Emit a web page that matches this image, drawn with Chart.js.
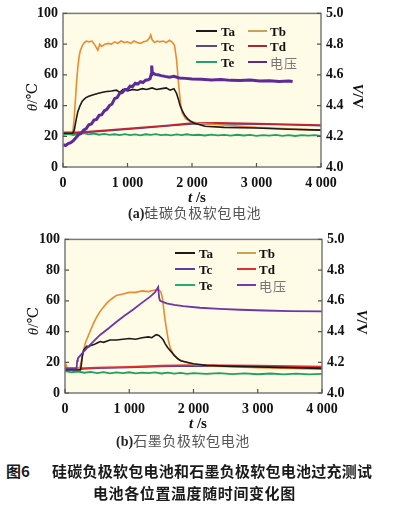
<!DOCTYPE html>
<html><head><meta charset="utf-8">
<script src="https://cdn.jsdelivr.net/npm/chart.js@4.4.1/dist/chart.umd.min.js"></script>
<style>
html,body{margin:0;padding:0;background:#fff;}
#fig{position:relative;width:394px;height:516px;overflow:hidden;background:#fff;}
canvas{position:absolute;left:0;}
.t{position:absolute;white-space:nowrap;line-height:1;}
.serif{font-family:"Liberation Serif","DejaVu Serif",serif;}
.cjk{font-family:"Noto Sans CJK SC",sans-serif;}
.mid{transform:translateY(-50%);}
.sw{position:absolute;height:2px;}
</style></head>
<body>
<div id="fig">
  <canvas id="ca" width="394" height="205" style="top:0"></canvas>
  <canvas id="cb" width="394" height="205" style="top:226px"></canvas>
</div>
<script>
// ---------------- DATA ----------------
const xTicks = [0, 1000, 2000, 3000, 4000];
const xTickLabels = ['0', '1 000', '2 000', '3 000', '4 000'];
const yTicks = [0, 20, 40, 60, 80, 100];
const yTickLabels = ['0', '20', '40', '60', '80', '100'];
const vTicks = [4.0, 4.2, 4.4, 4.6, 4.8, 5.0];
const vTickLabels = ['4.0', '4.2', '4.4', '4.6', '4.8', '5.0'];
const legendLabels = ['Ta', 'Tb', 'Tc', 'Td', 'Te', '电压'];

// (a) 硅碳负极软包电池
const a_Ta_t = [0,150,175,200,230,265,300,350,400,470,550,650,750,830,880,930,1000,1080,1150,1230,1300,1380,1450,1530,1600,1660,1720,1760,1790,1815,1850,1890,1930,1970,2030,2200,2500,3000,3500,4000];
const a_Ta_v = [22,22,24,30,36,40,43,45,46,47,48,49,49.5,50,48.5,50.5,49.5,50.5,50,51,50.5,51.5,50.5,51,51.5,50,51,48,44,40,36.5,33.5,31.5,30,28.7,26.5,25.8,25.4,24.6,24];
const a_Tb_t = [0,150,170,190,210,230,250,270,300,330,360,400,450,500,540,570,600,650,700,750,800,850,900,950,1000,1050,1100,1150,1200,1250,1300,1340,1360,1380,1420,1460,1500,1550,1600,1650,1700,1730,1760,1790,1820,1850,1900,1950,2000,2100,2300,2600,3000,3500,4000];
const a_Tb_v = [22,22,30,42,55,65,72,76,79,81,82,81.5,82,79,76,80,78.5,80,80.5,80,81.5,80.5,82,81,81.5,80.5,82,81,80.5,81.5,82,84,86,83,81,82,81.5,82,81,82.5,81,79,70,55,42,35,31.5,30.2,29.5,28.5,27.8,27,25.8,24.8,24];
const a_Tc_t = [0,200,400,800,1200,1600,2000,2400,3000,3500,4000];
const a_Tc_v = [22,22,22.6,23.9,25.2,26.6,28,28.2,27.8,27.4,26.9];
const a_Td_t = [0,200,400,800,1200,1600,2000,2400,3000,3500,4000];
const a_Td_v = [22.5,22.5,23,24.3,25.6,27,28.5,28.7,28.2,27.8,27.3];
const a_Te_t = [0,80,160,240,320,400,480,560,640,720,800,880,960,1040,1120,1200,1280,1360,1440,1520,1600,1680,1760,1840,1920,2000,2100,2200,2300,2400,2500,2600,2700,2800,2900,3000,3100,3200,3300,3400,3500,3600,3700,3800,3900,4000];
const a_Te_v = [21,21.6,20.8,21.5,22,21.2,21.8,21,21.6,20.9,21.3,20.7,21.4,20.8,21.2,20.6,21.3,20.9,21.4,20.7,21.1,20.6,21.2,20.8,21.3,20.7,21,20.5,21.1,20.6,20.9,20.4,21,20.5,20.9,20.3,20.8,20.4,20.9,20.3,20.7,20.2,20.8,20.4,20.7,20.3];
const a_U_t = [0,40,80,120,160,200,240,280,320,360,400,440,480,520,560,600,640,680,720,760,800,840,880,920,960,1000,1040,1080,1120,1160,1200,1240,1280,1320,1350,1365,1375,1385,1400,1430,1470,1520,1580,1650,1720,1800,1900,2000,2150,2300,2450,2600,2750,2900,3050,3200,3350,3500,3560];
const a_U_v = [4.145,4.14,4.152,4.158,4.172,4.19,4.21,4.218,4.24,4.25,4.275,4.28,4.305,4.31,4.336,4.34,4.365,4.375,4.4,4.41,4.445,4.452,4.48,4.485,4.505,4.505,4.526,4.524,4.545,4.54,4.555,4.55,4.565,4.568,4.575,4.6,4.66,4.615,4.61,4.603,4.6,4.595,4.59,4.585,4.59,4.58,4.577,4.573,4.572,4.567,4.57,4.564,4.563,4.566,4.56,4.562,4.557,4.56,4.556];

// (b) 石墨负极软包电池
const b_Ta_t = [0,240,250,270,290,310,340,370,400,450,500,550,600,700,800,900,1000,1100,1200,1300,1350,1420,1460,1500,1530,1560,1600,1650,1700,1750,1800,1900,2000,2200,2500,3000,3500,4000];
const b_Ta_v = [15,15,17,24,28,29,30.5,30,31,31.5,32.5,33.5,33,34.5,34.5,35,35.5,35,36,36.5,36,38,37.5,36,34.5,32,29.5,27,24.5,22.5,21,20,19,18,17.5,17,16.5,16];
const b_Tb_t = [0,20,40,60,200,230,260,290,320,350,390,450,500,545,600,650,700,750,800,900,1000,1100,1200,1300,1400,1460,1490,1510,1530,1550,1570,1590,1610,1640,1680,1710,1760,1840,2000,2300,2700,3000,3500,4000];
const b_Tb_v = [16,18,15.5,16,16,16,22,28,33,36,40,46,50,53,56,58.5,60.5,62,63.5,64.5,65.5,65.5,66.5,66,67,67,66,63,57,50,44,39,34,29,26,24,22,20.5,18.5,17.5,17,16.5,16,15.5];
const b_Tc_t = [0,200,500,1000,1500,2000,2500,3000,3500,4000];
const b_Tc_v = [15.5,15.5,16,16.6,17.3,17.6,17.4,17.1,16.9,16.7];
const b_Td_t = [0,200,500,1000,1500,2000,2500,3000,3500,4000];
const b_Td_v = [16,16,16.5,17,17.8,18.2,18,17.8,17.5,17.3];
const b_Te_t = [0,100,200,300,400,500,600,700,800,900,1000,1100,1200,1300,1400,1500,1600,1700,1800,1900,2000,2200,2400,2600,2800,3000,3200,3400,3600,3800,4000];
const b_Te_v = [14.2,13.5,14,13.2,13.8,13,13.6,12.8,13.4,13,13.5,12.8,13.3,12.9,13.4,12.7,13.2,12.6,13.1,12.5,13,12.4,12.9,12.3,12.8,12.2,12.7,12.1,12.6,12.1,12.4];
const b_U_t = [0,180,190,200,250,337,440,545,680,803,930,1062,1190,1321,1400,1450,1465,1480,1580,1700,1840,2100,2400,2724,3100,3500,4000];
const b_U_v = [4.16,4.16,4.21,4.225,4.25,4.29,4.335,4.378,4.422,4.464,4.505,4.544,4.585,4.626,4.655,4.69,4.62,4.60,4.583,4.574,4.566,4.555,4.548,4.542,4.537,4.533,4.531];

// ---------------- STYLE ----------------
const C_Ta = '#1a1a1a', C_Tb = '#ec8a2e', C_Tc = '#5b3f8f', C_Te = '#22a060';
const legendColorsA = ['#1a1a1a', '#c9a257', '#5b4a8a', '#a8262c', '#22a070', '#5e2a86'];
const legendColorsB = ['#1a1a1a', '#c9a257', '#5b3fa0', '#e03030', '#22b070', '#7a3aa8'];

function pts(t, v) { return t.map((x, i) => ({ x: x, y: v[i] })); }

const framePlugin = {
  id: 'frame',
  beforeDraw(c) {
    const a = c.chartArea, x = c.ctx;
    x.save(); x.fillStyle = '#fefbe6';
    x.fillRect(a.left, a.top, a.right - a.left, a.bottom - a.top);
    x.restore();
  },
  afterDraw(c) {
    const a = c.chartArea, x = c.ctx;
    x.save();
    x.strokeStyle = '#7a7a7a'; x.lineWidth = 1.5;
    x.strokeRect(a.left, a.top, a.right - a.left, a.bottom - a.top);
    x.lineWidth = 1.2; x.strokeStyle = '#555';
    x.beginPath();
    c.scales.x.ticks.forEach(t => { const p = c.scales.x.getPixelForValue(t.value); x.moveTo(p, a.bottom); x.lineTo(p, a.bottom - 4); });
    c.scales.y.ticks.forEach(t => { const p = c.scales.y.getPixelForValue(t.value); x.moveTo(a.left, p); x.lineTo(a.left + 4, p); });
    c.scales.v.ticks.forEach(t => { const p = c.scales.v.getPixelForValue(t.value); x.moveTo(a.right, p); x.lineTo(a.right - 4, p); });
    x.stroke();
    x.restore();
  }
};

const tickFont = { family: '"Liberation Serif", "DejaVu Serif", serif', size: 14, weight: 'bold' };

function makeChart(id, ds, leftW, rightW) {
  return new Chart(document.getElementById(id), {
    type: 'line',
    data: { datasets: ds },
    plugins: [framePlugin],
    options: {
      responsive: false, animation: false, devicePixelRatio: 1,
      layout: { padding: { top: 13, left: 0, right: 0, bottom: 0 } },
      plugins: { legend: { display: false }, tooltip: { enabled: false } },
      elements: { point: { radius: 0 }, line: { tension: 0 } },
      scales: {
        x: {
          type: 'linear', position: 'bottom', min: 0, max: 4000,
          afterBuildTicks: s => { s.ticks = xTicks.map(v => ({ value: v })); },
          ticks: { callback: (v, i) => xTickLabels[i], font: tickFont, color: '#111', padding: 8, maxRotation: 0, autoSkip: false },
          grid: { display: false, drawTicks: false }, border: { display: false },
          afterFit: s => { s.height = 38; }
        },
        y: {
          type: 'linear', position: 'left', min: 0, max: 100,
          afterBuildTicks: s => { s.ticks = yTicks.map(v => ({ value: v })); },
          ticks: { callback: (v, i) => yTickLabels[i], font: tickFont, color: '#111', padding: 5 },
          grid: { display: false, drawTicks: false }, border: { display: false },
          afterFit: s => { s.width = leftW; }
        },
        v: {
          type: 'linear', position: 'right', min: 4.0, max: 5.0,
          afterBuildTicks: s => { s.ticks = vTicks.map(v => ({ value: v })); },
          ticks: { callback: (v, i) => vTickLabels[i], font: tickFont, color: '#111', padding: 5 },
          grid: { display: false, drawTicks: false }, border: { display: false },
          afterFit: s => { s.width = rightW; }
        }
      }
    }
  });
}

function lineDs(label, t, v, color, width, order, axis) {
  return { label: label, data: pts(t, v), borderColor: color, borderWidth: width, order: order, yAxisID: axis || 'y', xAxisID: 'x', fill: false };
}

makeChart('ca', [
  lineDs('Ta', a_Ta_t, a_Ta_v, C_Ta, 1.6, 2),
  lineDs('Tb', a_Tb_t, a_Tb_v, C_Tb, 1.6, 3),
  lineDs('Tc', a_Tc_t, a_Tc_v, C_Tc, 1.4, 6),
  lineDs('Td', a_Td_t, a_Td_v, '#c0262e', 1.8, 4),
  lineDs('Te', a_Te_t, a_Te_v, C_Te, 1.8, 5),
  lineDs('电压', a_U_t, a_U_v, '#5e2a9a', 3, 1, 'v')
], 63, 73);

makeChart('cb', [
  lineDs('Ta', b_Ta_t, b_Ta_v, C_Ta, 1.6, 2),
  lineDs('Tb', b_Tb_t, b_Tb_v, C_Tb, 1.6, 3),
  lineDs('Tc', b_Tc_t, b_Tc_v, C_Tc, 1.4, 6),
  lineDs('Td', b_Td_t, b_Td_v, '#e0302e', 1.6, 4),
  lineDs('Te', b_Te_t, b_Te_v, C_Te, 1.8, 5),
  lineDs('电压', b_U_t, b_U_v, '#6e36a8', 1.8, 1, 'v')
], 65, 72);

// ---------------- TEXT OVERLAYS ----------------
const fig = document.getElementById('fig');
function addText(html, cls, left, top, style) {
  const d = document.createElement('div');
  d.className = 't ' + cls;
  d.innerHTML = html;
  d.style.left = left + 'px'; d.style.top = top + 'px';
  if (style) d.setAttribute('style', d.getAttribute('style') + ';' + style);
  fig.appendChild(d);
  return d;
}
function legend(rows, col1, col2, colors) {
  legendLabels.forEach((lab, i) => {
    const r = Math.floor(i / 2), c = i % 2;
    const ln = c === 0 ? col1 : col2;
    const sw = document.createElement('div');
    sw.className = 'sw';
    sw.style.left = ln[0] + 'px'; sw.style.width = (ln[1] - ln[0]) + 'px';
    sw.style.top = (rows[r] - 1) + 'px'; sw.style.background = colors[i];
    fig.appendChild(sw);
    const isCjk = /[^\x00-\x7f]/.test(lab);
    addText(lab, (isCjk ? 'cjk' : 'serif') + ' mid', ln[2], rows[r],
      isCjk ? 'font-size:13px;color:#777;letter-spacing:1px' : 'font-size:13px;font-weight:bold;color:#111');
  });
}
legend([31, 46, 62], [196, 217, 221], [248, 267, 270], legendColorsA);
legend([253, 269, 285], [175, 195, 199], [237, 256, 259], legendColorsB);

// axis titles
function rotTitle(html, cx, cy, deg, style) {
  const d = addText(html, 'serif', cx, cy, style + ';transform:translate(-50%,-50%) rotate(' + deg + 'deg)');
  return d;
}
rotTitle('<i>θ</i>/℃', 32, 97, -90, 'font-size:15px;color:#111');
rotTitle('<i>V</i>/V', 357, 96, 90, 'font-size:15px;font-weight:bold;color:#111');
rotTitle('<i>θ</i>/℃', 33, 321, -90, 'font-size:15px;color:#111');
rotTitle('<i>V</i>/V', 361, 322, 90, 'font-size:15px;font-weight:bold;color:#111');
addText('<i>t</i> /s', 'serif', 197, 197, 'font-size:15px;font-weight:bold;color:#111;transform:translate(-50%,-50%)');
addText('<i>t</i> /s', 'serif', 198, 423, 'font-size:15px;font-weight:bold;color:#111;transform:translate(-50%,-50%)');

// sub captions
addText('<span class="serif" style="font-weight:bold;color:#222">(a)</span><span class="cjk" style="letter-spacing:0.6px">硅碳负极软包电池</span>', 'mid', 128, 213, 'font-size:14px;color:#555');
addText('<span class="serif" style="font-weight:bold;color:#222">(b)</span><span class="cjk" style="letter-spacing:0.6px">石墨负极软包电池</span>', 'mid', 116, 441, 'font-size:14px;color:#555');

// figure caption
addText('图6', 'cjk mid', 6, 470, 'font-size:15px;font-weight:bold;color:#1a1a1a');
addText('硅碳负极软包电池和石墨负极软包电池过充测试', 'cjk mid', 52, 470, 'font-size:15px;font-weight:bold;color:#1a1a1a;letter-spacing:0.25px');
addText('电池各位置温度随时间变化图', 'cjk mid', 93, 492, 'font-size:15px;font-weight:bold;color:#1a1a1a;letter-spacing:0.6px');
</script>
</body></html>
